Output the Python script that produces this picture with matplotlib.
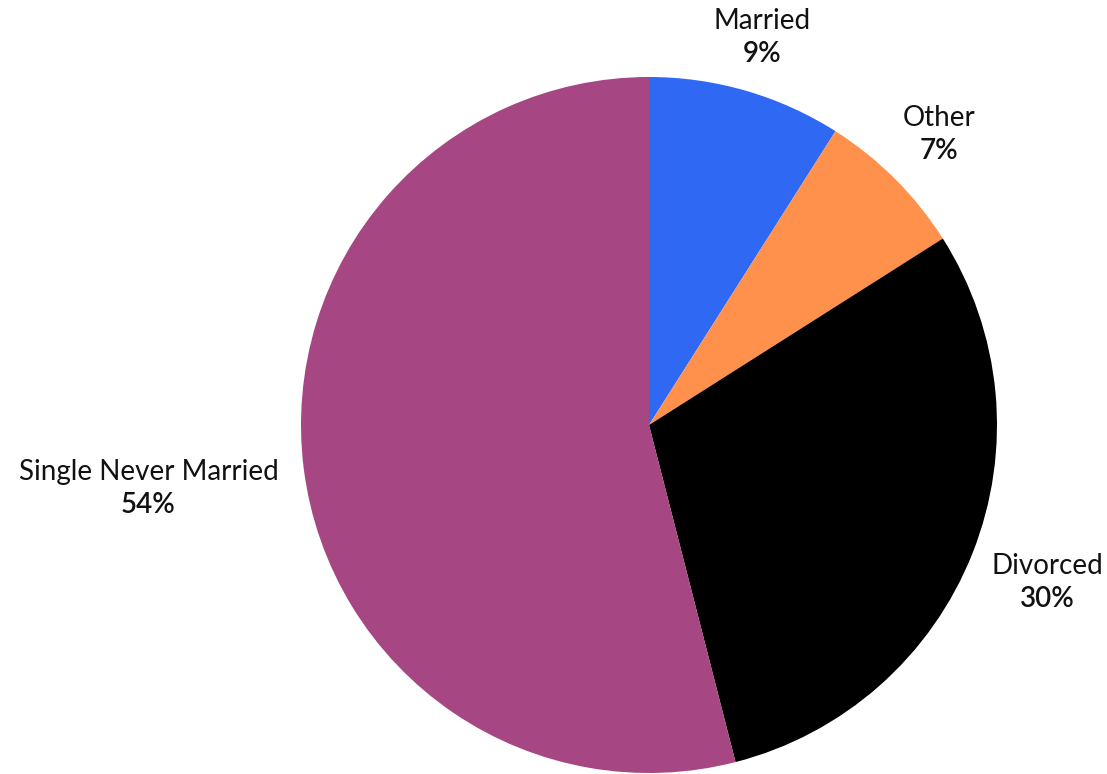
import numpy as np
import matplotlib
matplotlib.use("Agg")
import matplotlib.pyplot as plt

categories = ["Married", "Other", "Divorced", "Single Never Married"]
values = [9, 7, 30, 54]
colors = ["#2f69f3", "#ff914d", "#000000", "#a64783"]
label_dist = [1.16, 1.18, 1.23, 1.45]

W, H = 1107, 774
fig = plt.figure(figsize=(W / 100, H / 100), dpi=100)
ax = fig.add_axes([0, 0, 1, 1])

cx, cy, R = 649, H - 425, 348
wedges, _ = ax.pie(values, colors=colors, startangle=90, counterclock=False,
                   center=(cx, cy), radius=R, frame=True,
                   wedgeprops=dict(linewidth=0))
ax.set_xlim(0, W)
ax.set_ylim(0, H)
ax.set_aspect("equal")
ax.axis("off")

total = sum(values)
for w, name, v, d in zip(wedges, categories, values, label_dist):
    ang = np.deg2rad((w.theta1 + w.theta2) / 2)
    x = cx + R * d * np.cos(ang)
    y = cy + R * d * np.sin(ang)
    ax.text(x, y + 16.5, name, ha="center", va="center", fontsize=20,
            family="Lato", color="#111111")
    ax.text(x, y - 16.5, f"{round(100 * v / total)}%", ha="center", va="center",
            fontsize=20, family="Lato", fontweight="semibold", color="#111111")

fig.savefig("out.png", dpi=100)
